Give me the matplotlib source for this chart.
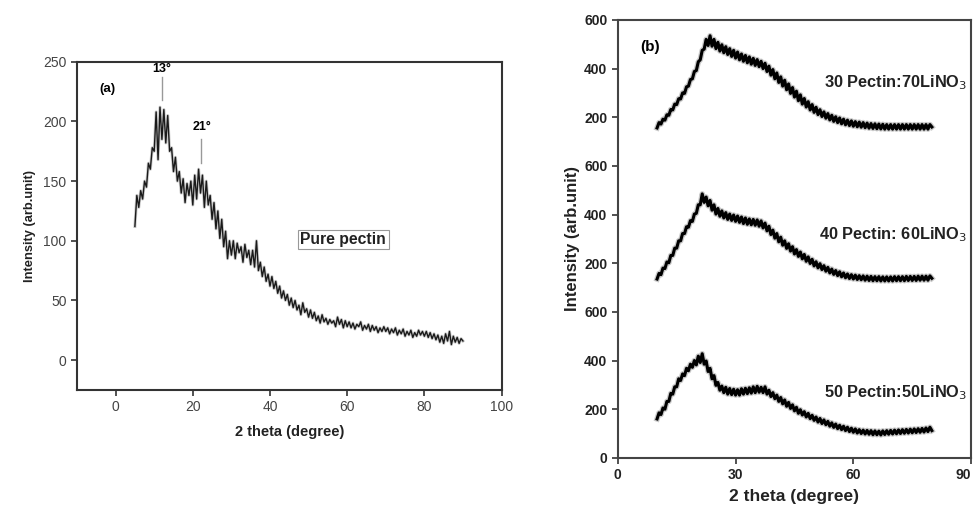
import numpy as np
import matplotlib.pyplot as plt

plt.rcParams['font.family'] = ['Liberation Sans', 'DejaVu Sans']

# ---- panel (a): pure pectin, 2theta 5..90 step 0.5
theta_a = np.arange(5, 90.01, 0.5)
pectin = [112, 138, 128, 142, 135, 150, 145, 165, 160, 178,
          175, 208, 168, 212, 185, 210, 182, 205, 175, 178,
          158, 170, 150, 158, 140, 152, 132, 148, 138, 150,
          130, 155, 135, 160, 140, 155, 128, 150, 130, 138,
          118, 132, 110, 125, 102, 118, 95, 108, 85, 100,
          88, 100, 85, 98, 90, 95, 82, 97, 86, 92,
          80, 92, 78, 100, 75, 82, 70, 78, 66, 72,
          62, 70, 60, 66, 56, 62, 52, 58, 50, 55,
          46, 52, 44, 50, 42, 46, 38, 48, 40, 43,
          36, 42, 35, 40, 33, 37, 31, 38, 32, 35,
          30, 34, 31, 33, 28, 36, 30, 34, 27, 33,
          28, 32, 27, 31, 26, 30, 28, 32, 25, 29,
          26, 30, 24, 29, 25, 28, 23, 27, 24, 28,
          24, 27, 22, 26, 23, 27, 21, 25, 22, 26,
          20, 24, 21, 25, 19, 23, 20, 25, 21, 24,
          20, 24, 19, 23, 18, 22, 17, 21, 15, 20,
          14, 22, 16, 24, 13, 20, 15, 19, 14, 18,
          16]

# ---- panel (b): composites, 2theta 10..80 step 0.5
theta_b = np.arange(10, 80.01, 0.5)
p50_li50 = [160, 185, 178, 205, 200, 232, 232, 265, 262, 292,
            292, 325, 318, 345, 338, 368, 358, 385, 372, 400,
            382, 418, 392, 428, 385, 398, 355, 368, 325, 338,
            298, 310, 278, 295, 268, 290, 262, 285, 260, 282,
            258, 280, 258, 284, 262, 286, 264, 288, 266, 292,
            268, 294, 270, 290, 268, 292, 262, 278, 252, 268,
            243, 258, 232, 248, 222, 238, 212, 228, 203, 218,
            193, 208, 183, 198, 176, 190, 168, 183, 161, 175,
            154, 168, 147, 162, 141, 156, 136, 150, 130, 144,
            125, 139, 120, 134, 116, 130, 112, 126, 108, 122,
            105, 119, 102, 116, 100, 114, 98, 113, 97, 112,
            95, 111, 95, 110, 94, 111, 96, 112, 97, 113,
            98, 114, 99, 115, 100, 116, 101, 117, 102, 118,
            103, 119, 104, 120, 105, 121, 106, 123, 108, 126,
            112]
p40_li60 = [135, 158, 153, 180, 178, 205, 202, 232, 232, 262,
            262, 292, 292, 322, 322, 350, 348, 375, 372, 402,
            405, 440, 440, 485, 450, 472, 436, 458, 418, 440,
            402, 425, 393, 415, 386, 408, 380, 402, 376, 398,
            372, 394, 368, 390, 363, 386, 360, 382, 358, 380,
            356, 378, 352, 374, 345, 365, 333, 352, 318, 336,
            303, 322, 288, 307, 274, 292, 261, 280, 250, 268,
            238, 256, 228, 246, 218, 236, 208, 226, 199, 216,
            189, 206, 181, 198, 174, 190, 167, 183, 160, 176,
            154, 170, 149, 165, 144, 160, 140, 156, 137, 153,
            135, 151, 133, 149, 132, 148, 130, 147, 129, 146,
            128, 145, 128, 145, 127, 144, 127, 144, 127, 144,
            127, 145, 128, 145, 128, 145, 128, 146, 129, 146,
            129, 146, 129, 147, 130, 147, 130, 147, 130, 148,
            138]
p30_li70 = [156, 178, 172, 192, 188, 210, 208, 232, 230, 254,
            252, 276, 275, 300, 298, 325, 328, 355, 358, 388,
            392, 428, 436, 475, 480, 520, 495, 535, 492, 520,
            482, 508, 472, 498, 465, 490, 458, 482, 450, 475,
            443, 468, 436, 460, 430, 454, 424, 448, 418, 442,
            413, 437, 408, 430, 400, 422, 388, 410, 373, 396,
            358, 382, 343, 366, 328, 352, 313, 337, 298, 322,
            283, 307, 268, 292, 254, 277, 242, 264, 230, 252,
            220, 241, 211, 231, 203, 222, 196, 215, 189, 208,
            183, 202, 178, 197, 173, 192, 169, 188, 166, 185,
            163, 182, 161, 180, 159, 178, 157, 176, 155, 174,
            154, 173, 153, 172, 152, 171, 151, 170, 151, 170,
            151, 170, 151, 170, 151, 170, 151, 170, 151, 170,
            151, 170, 151, 170, 151, 170, 151, 170, 151, 170,
            160]
series_b = [p50_li50, p40_li60, p30_li70]
labels_b = ['50 Pectin:50LiNO$_3$', '40 Pectin: 60LiNO$_3$', '30 Pectin:70LiNO$_3$']
offsets_b = [0, 600, 1200]
yticks_b = [0, 200, 400, 600, 800, 1000, 1200, 1400, 1600, 1800]
yticklabels_b = ['0', '200', '400', '600', '200', '400', '600', '200', '400', '600']

fig = plt.figure(figsize=(9.76, 5.11), dpi=100)

# ---------- (a)
ax1 = fig.add_axes([0.0789, 0.237, 0.435, 0.642])
ax1.plot(theta_a, pectin, color='#999999', lw=2.2, alpha=0.5)
ax1.plot(theta_a, pectin, color='#1a1a1a', lw=1.0)
ax1.set_xlim(-10, 100)
ax1.set_ylim(-25, 250)
ax1.set_xticks([0, 20, 40, 60, 80, 100])
ax1.set_yticks([0, 50, 100, 150, 200, 250])
ax1.tick_params(direction='out', length=4, width=1.2, labelsize=10, colors='#333333',
                labelcolor='#444444')
for s in ax1.spines.values():
    s.set_linewidth(1.5)
    s.set_color('#333333')
ax1.set_xlabel('2 theta (degree)', fontsize=10.5, fontweight='bold', color='#222222', labelpad=8)
ax1.set_ylabel('Intensity (arb.unit)', fontsize=9.3, fontweight='bold', color='#222222', labelpad=5)
ax1.text(-2, 227, '(a)', fontsize=9.5, fontweight='bold', ha='center', va='center')
ax1.text(11.9, 244, '13°', fontsize=9, fontweight='bold', ha='center', va='center')
ax1.plot([11.9, 11.9], [218, 237], color='#999999', lw=1)
ax1.text(22.5, 195, '21°', fontsize=9, fontweight='bold', ha='center', va='center')
ax1.plot([22, 22], [165, 185], color='#999999', lw=1)
ax1.text(59, 101, 'Pure pectin', fontsize=11.3, fontweight='bold', ha='center', va='center',
         color='#222222',
         bbox=dict(boxstyle='square,pad=0.15', fc='white', ec='#999999', lw=0.8))

# ---------- (b)
ax2 = fig.add_axes([0.633, 0.104, 0.362, 0.857])
for vals, off in zip(series_b, offsets_b):
    yv = np.array(vals) + off
    ax2.plot(theta_b, yv, color='#888888', lw=4.0, alpha=0.45)
    ax2.plot(theta_b, yv, color='black', lw=2.2)
ax2.set_xlim(0, 90)
ax2.set_ylim(0, 1800)
ax2.set_xticks([0, 30, 60, 90])
ax2.set_yticks(yticks_b)
ax2.set_yticklabels(yticklabels_b)
ax2.tick_params(direction='out', length=4, width=1.2, labelsize=10, colors='#333333',
                labelcolor='#222222')
for lab in ax2.get_xticklabels() + ax2.get_yticklabels():
    lab.set_fontweight('bold')
ax2.get_xticklabels()[-1].set_horizontalalignment('right')
for s in ax2.spines.values():
    s.set_linewidth(1.5)
    s.set_color('#444444')
ax2.set_xlabel('2 theta (degree)', fontsize=12.5, fontweight='bold', color='#222222', labelpad=5)
ax2.set_ylabel('Intensity (arb.unit)', fontsize=12, fontweight='bold', color='#222222', labelpad=3)
ax2.text(8.1, 1689, '(b)', fontsize=11, fontweight='bold', ha='center', va='center')
for lab, ypos in zip(labels_b, [267, 917, 1541]):
    ax2.text(89, ypos, lab, fontsize=11.8, fontweight='bold', ha='right', va='center',
             color='#222222')

fig.savefig('out.png', dpi=100)
